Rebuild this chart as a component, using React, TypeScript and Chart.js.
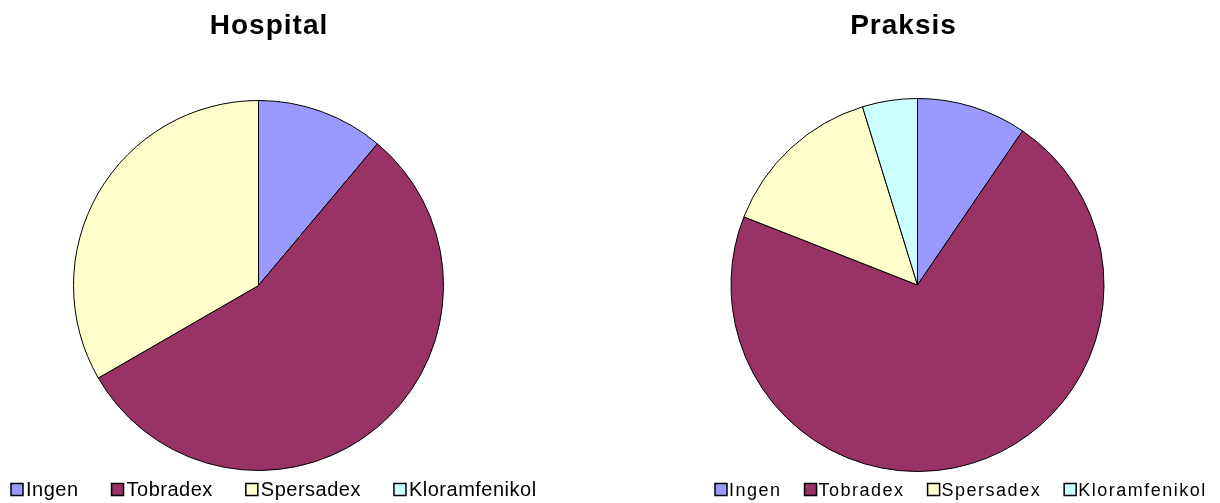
import React, { useEffect, useRef } from "react";
import { Chart, registerables } from "chart.js";

Chart.register(...registerables);

// ---- data ----
const categories = ["Ingen", "Tobradex", "Spersadex", "Kloramfenikol"];
const hospitalValues = [1, 5, 3, 0];
const praksisValues = [2, 15, 3, 1];
const sliceColors = ["#9999FF", "#993366", "#FFFFCC", "#CCFFFF"];
const hospitalTitle = "Hospital";
const praksisTitle = "Praksis";

const FONT = '"Liberation Sans", Arial, Helvetica, sans-serif';

const overlayPlugin = {
  id: "overlay",
  afterDraw(chart: any, _args: any, opts: any) {
    const ctx = chart.ctx as CanvasRenderingContext2D;
    ctx.save();
    // title
    ctx.fillStyle = "#000";
    ctx.font = `bold 28px ${FONT}`;
    ctx.textAlign = "center";
    ctx.textBaseline = "alphabetic";
    (ctx as any).letterSpacing = opts.titleSpacing;
    ctx.fillText(opts.title, opts.titleX, opts.titleY);

    // legend
    ctx.font = `${opts.legendSize}px ${FONT}`;
    ctx.textAlign = "left";
    (ctx as any).letterSpacing = opts.legendSpacing;
    const labels = chart.data.labels as string[];
    const colors = chart.data.datasets[0].backgroundColor as string[];
    let x = opts.legendX;
    const box = 12;
    labels.forEach((lab: string, i: number) => {
      ctx.fillStyle = colors[i];
      ctx.fillRect(x, opts.boxTop, box, box);
      ctx.strokeStyle = "#000";
      ctx.lineWidth = 1.5;
      ctx.strokeRect(x, opts.boxTop, box, box);
      ctx.fillStyle = "#000";
      ctx.fillText(lab, x + opts.textOffset, opts.legendBaseline);
      x += opts.textOffset + ctx.measureText(lab).width + opts.gap;
    });
    ctx.restore();
  },
};

function PieChart(props: {
  values: number[];
  padding: { left: number; right: number; top: number; bottom: number };
  overlay: any;
}) {
  const ref = useRef<HTMLCanvasElement | null>(null);
  useEffect(() => {
    if (!ref.current) return;
    const chart = new Chart(ref.current, {
      type: "pie",
      data: {
        labels: categories,
        datasets: [
          {
            data: props.values,
            backgroundColor: sliceColors,
            borderColor: "#000000",
            borderWidth: 1,
          },
        ],
      },
      options: {
        responsive: false,
        animation: false,
        events: [],
        layout: { padding: props.padding },
        plugins: {
          legend: { display: false },
          title: { display: false },
          tooltip: { enabled: false },
          overlay: props.overlay,
        } as any,
      },
      plugins: [overlayPlugin],
    });
    return () => chart.destroy();
  }, []);
  return (
    <canvas
      ref={ref}
      width={610}
      height={503}
      style={{ width: 610, height: 503, display: "block" }}
    />
  );
}

export default function App() {
  return (
    <div
      style={{
        position: "fixed",
        left: 0,
        top: 0,
        width: 1220,
        height: 503,
        background: "#fff",
        display: "flex",
      }}
    >
      <PieChart
        values={hospitalValues}
        padding={{ left: 73, right: 166, top: 100, bottom: 32 }}
        overlay={{
          title: hospitalTitle,
          titleX: 269,
          titleY: 34,
          titleSpacing: "1px",
          legendX: 11,
          boxTop: 483.5,
          legendBaseline: 496,
          legendSize: 20,
          legendSpacing: "0.5px",
          textOffset: 15,
          gap: 33,
        }}
      />
      <PieChart
        values={praksisValues}
        padding={{ left: 120.5, right: 115.5, top: 98, bottom: 31 }}
        overlay={{
          title: praksisTitle,
          titleX: 293.5,
          titleY: 34,
          titleSpacing: "1px",
          legendX: 105,
          boxTop: 483.5,
          legendBaseline: 496,
          legendSize: 18,
          legendSpacing: "1.5px",
          textOffset: 14,
          gap: 23,
        }}
      />
    </div>
  );
}
